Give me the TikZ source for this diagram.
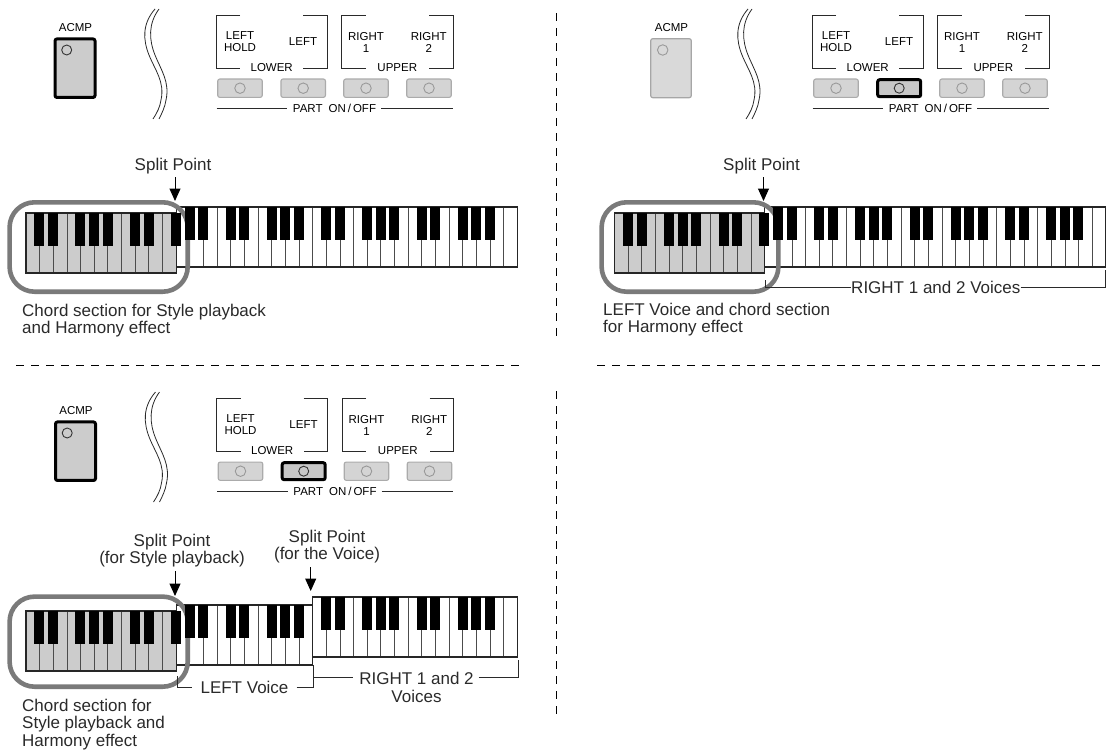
\documentclass[tikz,border=0pt]{standalone}
\usepackage{fontspec}
\setmainfont{Liberation Sans}
\usetikzlibrary{arrows.meta}

\definecolor{inkdark}{HTML}{2A2A2A}
\tikzset{
  panellabel/.style={font=\fontsize{11.5}{12.5}\selectfont, text=black, align=center, inner sep=0pt},
  caption/.style={font=\fontsize{17}{17.7}\selectfont, text=inkdark, align=center, inner sep=0pt},
  captionleft/.style={caption, align=left, anchor=north west},
  acmpon/.style={draw=black, line width=3pt, fill=black!20, rounded corners=2pt, minimum width=40pt, minimum height=58.5pt, inner sep=0pt},
  acmpoff/.style={draw=black!35, line width=1.2pt, fill=black!15, rounded corners=2pt, minimum width=40.5pt, minimum height=59pt, inner sep=0pt},
  btnoff/.style={draw=black!33, line width=1.1pt, fill=black!17, rounded corners=2pt, minimum width=44.5pt, minimum height=18.3pt, inner sep=0pt},
  btnon/.style={draw=black, line width=3pt, fill=black!22, rounded corners=2pt, minimum width=43pt, minimum height=17pt, inner sep=0pt},
  ledon/.style={circle, draw=black!80, line width=0.9pt, minimum size=10pt, inner sep=0pt},
  ledoff/.style={circle, draw=black!40, line width=0.9pt, minimum size=10.5pt, inner sep=0pt},
  bracket/.style={draw=inkdark, line width=0.9pt},
  splitarrow/.style={draw=black, line width=1pt, -{Stealth[width=11pt, length=12.5pt, inset=0pt]}},
  zoneframe/.style={draw=black!52, line width=4.6pt, rounded corners=25pt},
  cutline/.style={draw=black, line width=1pt, dash pattern=on 8pt off 7pt}
}

% white keys: origin, top, first key, last key, fill
\newcommand{\whitekeys}[5]{
  \fill[#5] ({#1+#3*13.65},#2) rectangle ({#1+#4*13.65},#2+60);
  \pgfmathtruncatemacro{\keynext}{#3+1}
  \pgfmathtruncatemacro{\keyprev}{#4-1}
  \foreach \k in {\keynext,...,\keyprev}
    \draw[black!70, line width=0.9pt] ({#1+\k*13.65},#2) -- ({#1+\k*13.65},#2+60);
  \draw[black!85, line width=1.1pt] ({#1+#3*13.65},#2) rectangle ({#1+#4*13.65},#2+60);
}
% black keys: origin, top, first key, last key
\newcommand{\blackkeys}[4]{
  \pgfmathtruncatemacro{\keynext}{#3+1}
  \foreach \k in {\keynext,...,#4}{
    \pgfmathtruncatemacro{\kmod}{mod(\k,7)}
    \ifnum\kmod=0\else\ifnum\kmod=3\else
      \fill[black] ({#1+\k*13.65-5.2},#2) rectangle ({#1+\k*13.65+4.8},#2+32.7);
    \fi\fi
  }
}
% top of a panel: name, shift x, shift y, acmp style, led style, second button, led style, wave shift
\newcommand{\controlpanel}[8]{
  \begin{scope}[shift={(#2,#3)}]
    \node[panellabel] (#1acmp) at (75.5,27.5) {ACMP};
    \node[#4] (#1acmpbtn) at (75,68.2) {};
    \node[#5] (#1acmpled) at (66.7,50) {};
    % break in the panel
    \draw[inkdark, line width=0.8pt, xshift=#8pt] (159,9) .. controls (148,24) and (149,40) .. (155,55) .. controls (161,70) and (170,82) .. (166,100) .. controls (165,107) and (162,113) .. (159,119);
    \draw[inkdark, line width=0.8pt, xshift=#8pt] (155,9) .. controls (142,24) and (143,40) .. (149,55) .. controls (155,70) and (165,82) .. (161,100) .. controls (160,107) and (157,113) .. (153,119);
    % brackets
    \draw[bracket] (240,15) -- (216,15) -- (216,68) -- (240,68);
    \draw[bracket] (303,15) -- (327,15) -- (327,68) -- (303,68);
    \draw[bracket] (365.7,15) -- (341.7,15) -- (341.7,68) -- (365.7,68);
    \draw[bracket] (429,15) -- (453,15) -- (453,68) -- (429,68);
    \node[panellabel] (#1hold) at (240,42) {LEFT\\[-0.5pt]HOLD};
    \node[panellabel] (#1left) at (303,42) {LEFT};
    \node[panellabel] (#1rone) at (366,42) {RIGHT\\[-0.5pt]1};
    \node[panellabel] (#1rtwo) at (428.7,42) {RIGHT\\[-0.5pt]2};
    \node[panellabel] (#1lower) at (271.7,68) {LOWER};
    \node[panellabel] (#1upper) at (397.3,68) {UPPER};
    % buttons
    \node[btnoff] (#1bone) at (240,88.2) {};
    \node[#6] (#1btwo) at (303.2,88.2) {};
    \node[btnoff] (#1bthree) at (366,88.2) {};
    \node[btnoff] (#1bfour) at (429,88.2) {};
    \node[ledoff] (#1lone) at (240,88.2) {};
    \node[#7] (#1ltwo) at (303.2,88.2) {};
    \node[ledoff] (#1lthree) at (366,88.2) {};
    \node[ledoff] (#1lfour) at (429,88.2) {};
    \node[panellabel] (#1part) at (334.5,108.5) {PART\hspace{6pt}ON\hspace{2pt}/\hspace{2pt}OFF};
    \coordinate (#1pl) at (216.7,108.3);
    \coordinate (#1pm) at (287,108.3);
    \coordinate (#1pn) at (381,108.3);
    \coordinate (#1pr) at (452.7,108.3);
    \draw[bracket, line width=1pt] (#1pl) -- (#1pm);
    \draw[bracket, line width=1pt] (#1pn) -- (#1pr);
  \end{scope}
}

\begin{document}
\begin{tikzpicture}[x=1pt, y=-1pt]
  \useasboundingbox (0,0) rectangle (1110,749);

  % top left
  \controlpanel{a}{0}{0}{acmpon}{ledon}{btnoff}{ledoff}{0}
  \whitekeys{26}{207}{11}{36}{white}
  \whitekeys{26}{213}{0}{11}{black!20}
  \draw[zoneframe] (9.6,202.3) rectangle (187.7,291.7);
  \blackkeys{26}{207}{11}{35}
  \blackkeys{26}{213}{0}{11}
  \node[caption] (asplit) at (173,166.5) {Split Point};
  \coordinate (asplitA) at (175,177);
  \coordinate (asplitB) at (175,201);
  \draw[splitarrow] (asplitA) -- (asplitB);
  \node[captionleft] (atext) at (22,303.7) {Chord section for Style playback\\and Harmony effect};

  % top right
  \controlpanel{b}{596}{0}{acmpoff}{ledoff}{btnon}{ledon}{-3}
  \whitekeys{614.5}{207}{11}{36}{white}
  \whitekeys{614.5}{213}{0}{11}{black!20}
  \draw[zoneframe] (601.6,202.3) rectangle (778.4,291.7);
  \blackkeys{614.5}{207}{11}{35}
  \blackkeys{614.5}{213}{0}{11}
  \node[caption] (bsplit) at (761.5,166.5) {Split Point};
  \coordinate (bsplitA) at (763.5,177);
  \coordinate (bsplitB) at (763.5,201);
  \draw[splitarrow] (bsplitA) -- (bsplitB);
  \node[captionleft] (btext) at (603,302.7) {LEFT Voice and chord section\\for Harmony effect};
  \node[caption] (bright) at (935.8,287) {RIGHT 1 and 2 Voices};
  \coordinate (bbrA) at (765.7,280);
  \coordinate (bbrB) at (1105.7,270);
  \draw[bracket] (bbrA) |- (bright.west);
  \draw[bracket] (bright.east) -| (bbrB);

  % bottom left
  \controlpanel{c}{0.5}{383}{acmpon}{ledon}{btnon}{ledon}{0}
  \whitekeys{26}{597}{21}{36}{white}
  \whitekeys{26}{605}{11}{21}{white}
  \whitekeys{26}{611}{0}{11}{black!20}
  \draw[zoneframe] (9.6,596.6) rectangle (187.7,686.7);
  \blackkeys{26}{597}{21}{35}
  \blackkeys{26}{605}{11}{21}
  \blackkeys{26}{611}{0}{11}
  \node[caption] (csplit) at (172,550.5) {Split Point\\(for Style playback)};
  \coordinate (csplitA) at (175,571);
  \coordinate (csplitB) at (175,596);
  \draw[splitarrow] (csplitA) -- (csplitB);
  \node[caption] (cvoice) at (327,546.5) {Split Point\\(for the Voice)};
  \coordinate (cvoiceA) at (310.7,567);
  \coordinate (cvoiceB) at (310.7,591);
  \draw[splitarrow] (cvoiceA) -- (cvoiceB);
  \node[caption, inner xsep=8pt] (cleft) at (244.5,687) {LEFT Voice};
  \coordinate (cleftA) at (177.7,676);
  \coordinate (cleftB) at (313,665);
  \draw[bracket] (cleftA) |- (cleft.west);
  \draw[bracket] (cleft.east) -| (cleftB);
  \node[caption] (cright) at (416.5,687.5) {RIGHT 1 and 2 \\Voices};
  \coordinate (crightA) at (313,677.5);
  \coordinate (crightB) at (518,660);
  \coordinate (crightC) at (353,677.5);
  \coordinate (crightD) at (478.5,677.5);
  \draw[bracket] (crightA) -- (crightC);
  \draw[bracket] (crightD) -| (crightB);
  \node[captionleft] (ctext) at (22,698.5) {Chord section for\\Style playback and\\Harmony effect};

  % dashed cuts
  \draw[cutline] (16,365.7) -- (524,365.7);
  \draw[cutline] (597,365.7) -- (1105,365.7);
  \draw[cutline] (556.7,13.3) -- (556.7,338);
  \draw[cutline] (556.7,391) -- (556.7,718);
\end{tikzpicture}
\end{document}
